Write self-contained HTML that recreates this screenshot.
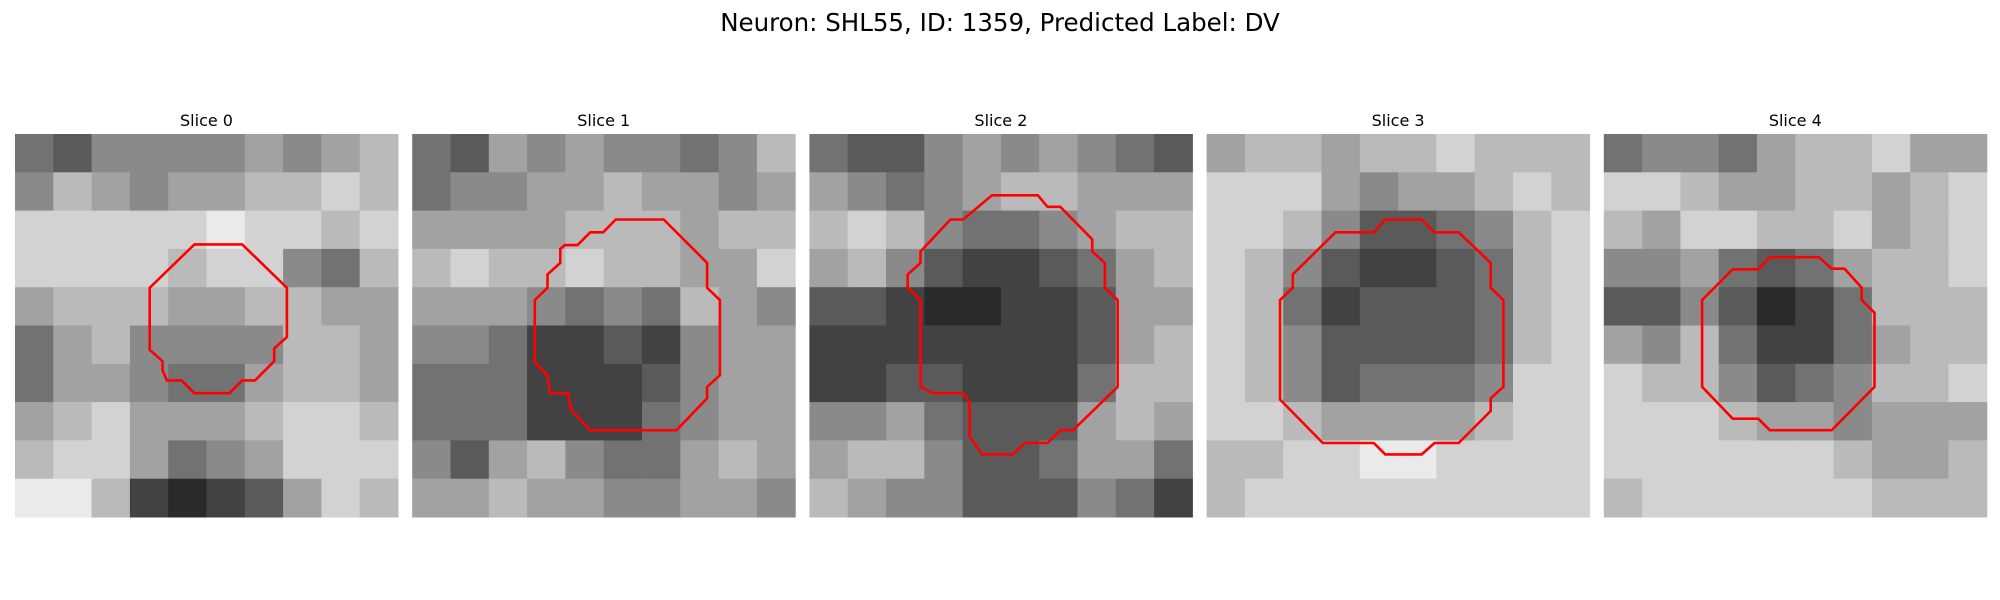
<!DOCTYPE html>
<html><head><meta charset="utf-8"><style>
html,body{margin:0;padding:0;background:#fff;width:2000px;height:600px;overflow:hidden}
svg text{font-family:"DejaVu Sans","Liberation Sans",sans-serif}
</style></head><body>
<svg id="fig" width="2000" height="600" viewBox="0 0 2000 600">
<text x="1000" y="31" text-anchor="middle" font-size="24.5" fill="#000">Neuron: SHL55, ID: 1359, Predicted Label: DV</text>
</svg>
<script>
const sliceTitles = ["Slice 0","Slice 1","Slice 2","Slice 3","Slice 4"];
// coarse 10x10 intensity (0 dark .. 9 white) per slice
const slice0 = [[4,3,5,5,5,5,6,5,6,7],[5,7,6,5,6,6,7,7,8,7],[8,8,8,8,8,9,8,8,7,8],[8,8,8,8,7,8,8,5,4,7],[6,7,7,7,6,6,7,7,6,6],[4,6,7,5,5,5,5,7,7,6],[4,6,6,5,4,4,6,7,7,6],[6,7,8,6,6,6,7,8,8,7],[7,8,8,6,4,5,6,8,8,8],[9,9,7,2,1,2,3,6,8,7]];
const slice1 = [[4,3,6,5,6,5,5,4,5,7],[4,5,5,6,6,7,6,6,5,6],[6,6,6,6,7,7,7,6,7,7],[7,8,7,7,8,7,7,6,6,8],[6,6,6,5,4,5,4,7,6,5],[5,5,4,2,2,3,2,5,6,6],[4,4,4,2,2,2,3,5,6,6],[4,4,4,2,2,2,4,5,6,6],[5,3,6,7,5,4,4,6,7,6],[6,6,7,6,6,5,5,6,6,5]];
const slice2 = [[4,3,3,5,6,5,6,5,4,3],[6,5,4,5,6,7,7,6,6,6],[7,8,7,5,4,4,5,6,7,7],[6,7,5,3,2,2,3,4,6,7],[3,3,2,1,1,2,2,3,6,6],[2,2,2,2,2,2,2,3,6,7],[2,2,3,3,2,2,2,4,7,7],[5,5,6,4,3,3,3,6,7,6],[6,7,7,5,3,3,4,6,6,4],[7,6,5,5,3,3,3,5,4,2]];
const slice3 = [[6,7,7,6,7,7,8,7,7,7],[8,8,8,6,5,6,6,7,8,7],[8,8,7,5,3,3,4,5,7,8],[8,7,5,3,2,2,3,4,7,8],[8,7,4,2,3,3,3,4,7,8],[8,7,5,3,3,3,3,4,7,8],[8,7,5,3,4,4,4,5,8,8],[8,8,7,6,6,6,6,7,8,8],[7,7,8,8,9,9,8,8,8,8],[7,8,8,8,8,8,8,8,8,8]];
const slice4 = [[4,5,5,4,6,7,7,8,6,6],[8,8,7,6,6,7,7,6,7,8],[7,6,8,8,7,7,8,6,7,8],[5,5,6,4,3,4,6,7,7,8],[3,3,5,3,1,2,4,7,7,7],[6,5,7,4,2,2,4,6,7,7],[8,7,7,5,3,4,5,7,7,8],[8,8,8,7,6,6,5,6,6,6],[8,8,8,8,8,8,7,6,6,7],[7,8,8,8,8,8,8,7,7,7]];
// contours in image-pixel coordinates (30x30 image)
const contour0 = [[14.05,8.65],[17.8,8.65],[21.3,12.05],[21.3,15.9],[20.3,16.8],[20.3,17.8],[18.8,19.3],[17.8,19.3],[16.8,20.3],[14.05,20.3],[13.05,19.3],[11.9,19.3],[11.55,18.5],[11.55,17.8],[10.55,16.9],[10.55,12.05]];
const contour1 = [[15.95,6.7],[19.7,6.7],[23.1,10.1],[23.1,12.05],[24.1,13],[24.1,18.9],[23.1,19.8],[23.1,20.7],[20.7,23.2],[13.95,23.2],[12.45,21.6],[12.2,20.3],[10.8,20.3],[10.6,18.9],[9.6,17.9],[9.6,13],[10.6,12.05],[10.6,11],[11.6,10.1],[11.6,9],[11.95,8.7],[12.95,8.7],[13.95,7.7],[14.95,7.7]];
const contour2 = [[14.3,4.8],[17.9,4.8],[18.65,5.7],[19.65,5.7],[22.15,8.25],[22.15,9.2],[23.15,10.1],[23.15,12.05],[24.15,13],[24.15,19.8],[20.65,23.2],[19.65,23.2],[18.65,24.2],[16.9,24.2],[15.9,25.1],[13.55,25.1],[12.55,23.7],[12.55,21.1],[12.05,20.3],[9.7,20.3],[8.7,19.8],[8.7,13],[7.7,12.05],[7.7,11],[8.7,10.1],[8.7,9.2],[11.05,6.7],[12.05,6.7]];
const contour3 = [[14,6.7],[16.85,6.7],[17.85,7.7],[19.75,7.7],[22.25,10.1],[22.25,12.05],[23.25,13],[23.25,19.8],[22.25,20.7],[22.25,21.7],[19.75,24.2],[17.85,24.2],[16.85,25.1],[14,25.1],[13.1,24.2],[9.1,24.2],[5.75,20.8],[5.75,13],[6.75,12.05],[6.75,11],[10.1,7.7],[13.1,7.7]];
const contour4 = [[13,9.65],[16.85,9.65],[17.85,10.55],[18.85,10.55],[20.2,12.05],[20.2,13],[21.2,14],[21.2,19.8],[17.85,23.2],[13,23.2],[12.1,22.3],[10.1,22.3],[7.7,19.8],[7.7,13],[10.1,10.6],[12.1,10.6]];

const slices = [slice0,slice1,slice2,slice3,slice4];
const contours = [contour0,contour1,contour2,contour3,contour4];
const NS = "http://www.w3.org/2000/svg";
const svg = document.getElementById("fig");
const panelLeft0 = 15, panelStep = 397.2, panelTop = 134, panelSize = 383, imgPx = 30;
function xScale(p, px){ return panelLeft0 + p*panelStep + px*panelSize/imgPx; }
function yScale(py){ return panelTop + py*panelSize/imgPx; }
function grayOf(v){ const g = Math.round(18 + v*24); return `rgb(${g},${g},${g})`; }

slices.forEach((grid, p) => {
  const g = document.createElementNS(NS, "g");
  
  
  svg.appendChild(g);
  const t = document.createElementNS(NS, "text");
  
  
  t.setAttribute("x", xScale(p, 15));
  t.setAttribute("y", 126);
  t.setAttribute("text-anchor", "middle");
  t.setAttribute("font-size", "16");
  t.textContent = sliceTitles[p];
  g.appendChild(t);
  const n = grid.length, cell = imgPx / n;
  grid.forEach((row, r) => row.forEach((v, c) => {
    const rect = document.createElementNS(NS, "rect");
    
    
    const x0 = xScale(p, c*cell), x1 = xScale(p, (c+1)*cell);
    const y0 = yScale(r*cell), y1 = yScale((r+1)*cell);
    rect.setAttribute("x", x0.toFixed(2));
    rect.setAttribute("y", y0.toFixed(2));
    rect.setAttribute("width", (x1-x0+0.5).toFixed(2));
    rect.setAttribute("height", (y1-y0+0.5).toFixed(2));
    rect.setAttribute("fill", grayOf(v));
    g.appendChild(rect);
  }));
  const poly = document.createElementNS(NS, "polygon");
  
  
  poly.setAttribute("points", contours[p].map(q => xScale(p, q[0]).toFixed(1) + "," + yScale(q[1]).toFixed(1)).join(" "));
  poly.setAttribute("fill", "none");
  poly.setAttribute("stroke", "#ff0000");
  poly.setAttribute("stroke-width", "2.6");
  g.appendChild(poly);
});
</script>
</body></html>
